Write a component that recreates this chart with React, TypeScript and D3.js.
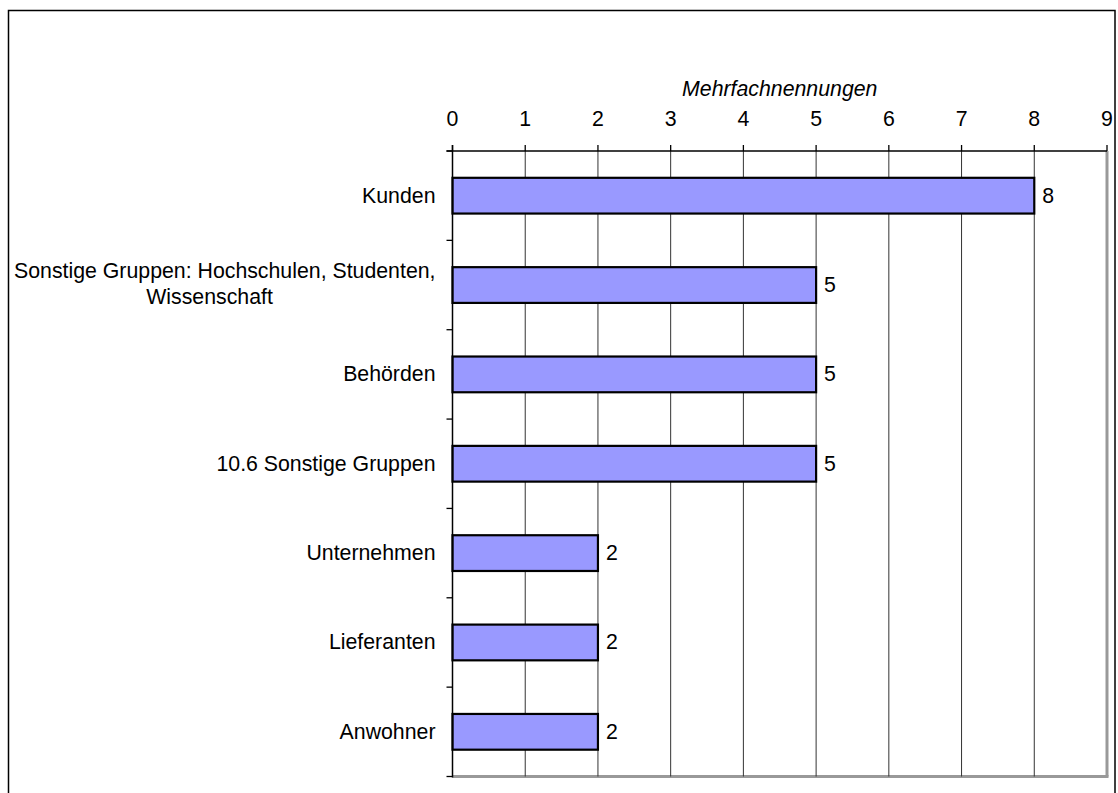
import React from "react";
import * as d3 from "d3";

const categories = [
  "Kunden",
  "Sonstige Gruppen: Hochschulen, Studenten,|Wissenschaft",
  "Behörden",
  "10.6 Sonstige Gruppen",
  "Unternehmen",
  "Lieferanten",
  "Anwohner",
];
const values = [8, 5, 5, 5, 2, 2, 2];
const tickValues = [0, 1, 2, 3, 4, 5, 6, 7, 8, 9];
const axisTitle = "Mehrfachnennungen";

const W = 1118;
const H = 793;
const left = 452.5;
const right = 1107;
const top = 151;
const bottom = 776.5;
const font = "'Liberation Sans', Arial, sans-serif";
const fs = 21.3;

export default function App() {
  const x = d3.scaleLinear().domain([0, 9]).range([left, right]);
  const y = d3
    .scaleBand<number>()
    .domain(d3.range(categories.length))
    .range([top, bottom])
    .paddingInner(0.6)
    .paddingOuter(0.3);
  const step = y.step();
  const boundaries = d3.range(categories.length + 1).map((i) => top + i * step);

  return (
    <svg
      width={W}
      height={H}
      style={{ position: "absolute", left: 0, top: 0, background: "#fff" }}
      fontFamily={font}
    >
      <rect x={0} y={0} width={W} height={H} fill="#fff" />
      {/* outer frame */}
      <rect x={8.5} y={10.5} width={1106.5} height={800} fill="none" stroke="#000" strokeWidth={1.5} />

      {/* plot area grey border (right & bottom) */}
      <line x1={right} x2={right} y1={top} y2={bottom} stroke="#999" strokeWidth={3} />
      <line x1={left} x2={right + 1.5} y1={bottom} y2={bottom} stroke="#999" strokeWidth={3} />

      {/* gridlines */}
      {tickValues
        .filter((t) => t > 0 && t < 9)
        .map((t) => (
          <line key={"g" + t} x1={x(t)} x2={x(t)} y1={top} y2={bottom} stroke="#333" strokeWidth={1} />
        ))}

      {/* bars */}
      {values.map((v, i) => (
        <g key={"b" + i}>
          <rect
            x={x(0)}
            y={y(i)!}
            width={x(v) - x(0)}
            height={y.bandwidth()}
            fill="#9999FF"
            stroke="#000"
            strokeWidth={2.2}
          />
          <text
            x={x(v) + 8}
            y={y(i)! + y.bandwidth() / 2}
            dominantBaseline="central"
            fontSize={fs}
            fill="#000"
          >
            {v}
          </text>
        </g>
      ))}

      {/* top axis */}
      <line x1={left - 6} x2={right} y1={top} y2={top} stroke="#000" strokeWidth={1.3} />
      {tickValues.map((t) => (
        <g key={"t" + t}>
          <line x1={x(t)} x2={x(t)} y1={top - 6} y2={top} stroke="#000" strokeWidth={1.3} />
          <text x={x(t)} y={125.5} textAnchor="middle" fontSize={fs} fill="#000">
            {t}
          </text>
        </g>
      ))}
      <text x={(left + right) / 2} y={96} textAnchor="middle" fontSize={fs} fontStyle="italic" fill="#000">
        {axisTitle}
      </text>

      {/* left axis */}
      <line x1={left} x2={left} y1={top - 6} y2={bottom + 1} stroke="#000" strokeWidth={1.5} />
      {boundaries.map((b, i) => (
        <line key={"lt" + i} x1={left - 6} x2={left} y1={b} y2={b} stroke="#000" strokeWidth={1.3} />
      ))}

      {/* category labels */}
      {categories.map((c, i) => {
        const cy = y(i)! + y.bandwidth() / 2;
        const lines = c.split("|");
        if (lines.length === 1) {
          return (
            <text key={"c" + i} x={left - 17} y={cy} textAnchor="end" dominantBaseline="central" fontSize={fs} fill="#000">
              {c}
            </text>
          );
        }
        return (
          <g key={"c" + i}>
            <text x={left - 17} y={cy - 14.5} textAnchor="end" dominantBaseline="central" fontSize={fs} fill="#000">
              {lines[0]}
            </text>
            <text x={left - 243} y={cy + 12} textAnchor="middle" dominantBaseline="central" fontSize={fs} fill="#000">
              {lines[1]}
            </text>
          </g>
        );
      })}
    </svg>
  );
}
